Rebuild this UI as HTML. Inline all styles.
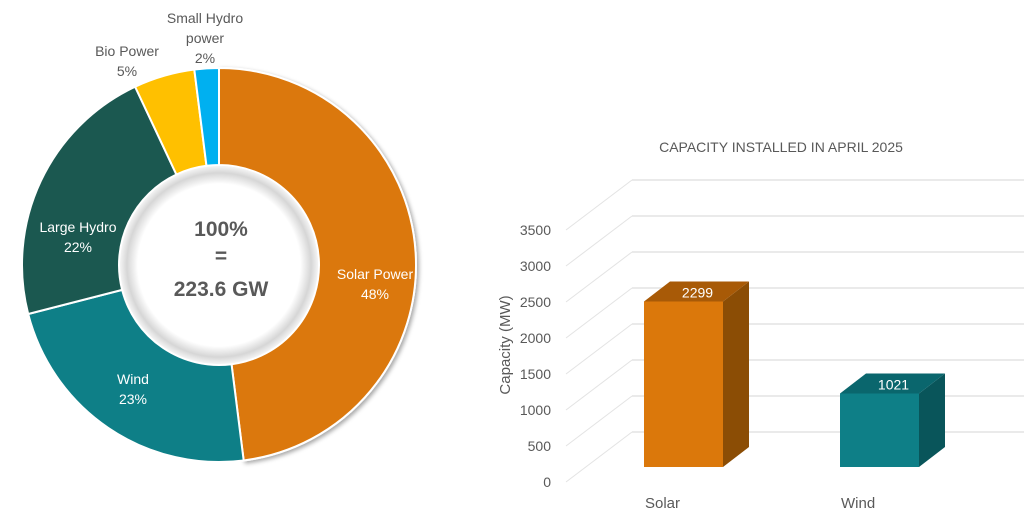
<!DOCTYPE html>
<html><head><meta charset="utf-8"><style>
body{margin:0;width:1024px;height:511px;background:#fff;overflow:hidden;font-family:"Liberation Sans",sans-serif}
svg{display:block}
</style></head><body>
<svg id="c" width="1024" height="511">
<defs>
<radialGradient id="hole" cx="50%" cy="50%" r="50%">
<stop offset="0.82" stop-color="#fff"/><stop offset="0.93" stop-color="#d6d6d6"/><stop offset="1" stop-color="#f4f4f4"/>
</radialGradient>
<filter id="sh" x="-10%" y="-10%" width="120%" height="120%"><feDropShadow dx="2" dy="2" stdDeviation="2" flood-color="#000" flood-opacity="0.35"/></filter>
</defs>
<g id="donut"></g>
<g id="bars"></g>
</svg>
<script>
const sliceNames=["Solar Power","Wind","Large Hydro","Bio Power","Small Hydro power"];
const sliceValues=[48,23,22,5,2];
const sliceColors=["#DB780B","#0E7F87","#1B5850","#FFC000","#00B0F0"];
const barCats=["Solar","Wind"];
const barValues=[2299,1021];
const yTicks=[0,500,1000,1500,2000,2500,3000,3500];
const NS="http://www.w3.org/2000/svg";
function mk(t,a,p){const e=document.createElementNS(NS,t);for(const k in a)e.setAttribute(k,a[k]);p.appendChild(e);return e;}
// Donut
const D=document.getElementById('donut');
const cx=219,cy=265,R=197,r=100;
const tot=sliceValues.reduce((a,b)=>a+b,0);
let acc=0;
function pt(a,rad){return [cx+rad*Math.sin(a),cy-rad*Math.cos(a)];}
sliceValues.forEach((v,i)=>{
 const a0=acc/tot*2*Math.PI;acc+=v;const a1=acc/tot*2*Math.PI;
 const lg=(a1-a0)>Math.PI?1:0;
 const [x0,y0]=pt(a0,R),[x1,y1]=pt(a1,R),[x2,y2]=pt(a1,r),[x3,y3]=pt(a0,r);
 const p=mk('path',{d:`M${x0},${y0}A${R},${R} 0 ${lg} 1 ${x1},${y1}L${x2},${y2}A${r},${r} 0 ${lg} 0 ${x3},${y3}Z`,fill:sliceColors[i],stroke:'#fff','stroke-width':2,filter:i==0?'url(#sh)':''},D);
 
 
});
const hole=mk('circle',{cx:cx,cy:cy,r:r-1,fill:'url(#hole)'},D);


const labels=[
 {x:375,y:[279,299],c:'#fff',t:[sliceNames[0],sliceValues[0]+'%']},
 {x:133,y:[384,404],c:'#fff',t:[sliceNames[1],sliceValues[1]+'%']},
 {x:78,y:[232,252],c:'#fff',t:[sliceNames[2],sliceValues[2]+'%']},
 {x:127,y:[56,76],c:'#595959',t:[sliceNames[3],sliceValues[3]+'%']},
 {x:205,y:[23,43,63],c:'#595959',t:['Small Hydro','power',sliceValues[4]+'%']}];
labels.forEach((L,i)=>{L.t.forEach((s,j)=>{const e=mk('text',{x:L.x,y:L.y[j],'text-anchor':'middle','font-size':14,fill:L.c},D);e.textContent=s;
 
 });});
[["100%",236],["=",263],["223.6 GW",296]].forEach(([s,y])=>{const e=mk('text',{x:221,y:y,'text-anchor':'middle','font-size':21,'font-weight':'bold',fill:'#595959'},D);e.textContent=s;
 
 });
// Bars
const B=document.getElementById('bars');
const y0f=482,scl=252/3500,ddx=66,ddy=50;
const fy=v=>y0f-v*scl;
yTicks.forEach(v=>{
 const y=fy(v);
 const d=mk('line',{x1:566,y1:y,x2:566+ddx,y2:y-ddy,stroke:'#e3e3e3','stroke-width':1},B);
 
 
 const g=mk('line',{x1:566+ddx,y1:y-ddy,x2:1024,y2:y-ddy,stroke:'#e3e3e3','stroke-width':1.5},B);
 
 
 const t=mk('text',{x:551,y:y+5,'text-anchor':'end','font-size':14,fill:'#595959'},B);t.textContent=v;
 
 
});
const yt=mk('text',{x:0,y:0,transform:'translate(510,345) rotate(-90)','text-anchor':'middle','font-size':15,fill:'#595959'},B);yt.textContent='Capacity (MW)';


const ti=mk('text',{x:781,y:152,'text-anchor':'middle','font-size':14,fill:'#595959'},B);ti.textContent='CAPACITY INSTALLED IN APRIL 2025';


const barCols=[["#DB780B","#A85A07","#8B4D05"],["#0E7F87","#0A666D","#09555A"]];
const bx0=644,bstep=196,bw=79,sdx=26,sdy=20,base=467;
barValues.forEach((v,i)=>{
 const x=bx0+i*bstep,top=base-v*scl;
 const f=mk('rect',{x:x,y:top,width:bw,height:base-top,fill:barCols[i][0]},B);
 
 
 const s=mk('polygon',{points:`${x+bw},${top} ${x+bw+sdx},${top-sdy} ${x+bw+sdx},${base-sdy} ${x+bw},${base}`,fill:barCols[i][2]},B);
 
 
 const tp=mk('polygon',{points:`${x},${top} ${x+sdx},${top-sdy} ${x+bw+sdx},${top-sdy} ${x+bw},${top}`,fill:barCols[i][1]},B);
 
 
 const l=mk('text',{x:x+bw/2+14,y:top-4,'text-anchor':'middle','font-size':14,fill:'#fff'},B);l.textContent=v;
 
 
 const c=mk('text',{x:x+1,y:508,'font-size':15,fill:'#595959'},B);c.textContent=barCats[i];
 
 
});
</script>
</body></html>
